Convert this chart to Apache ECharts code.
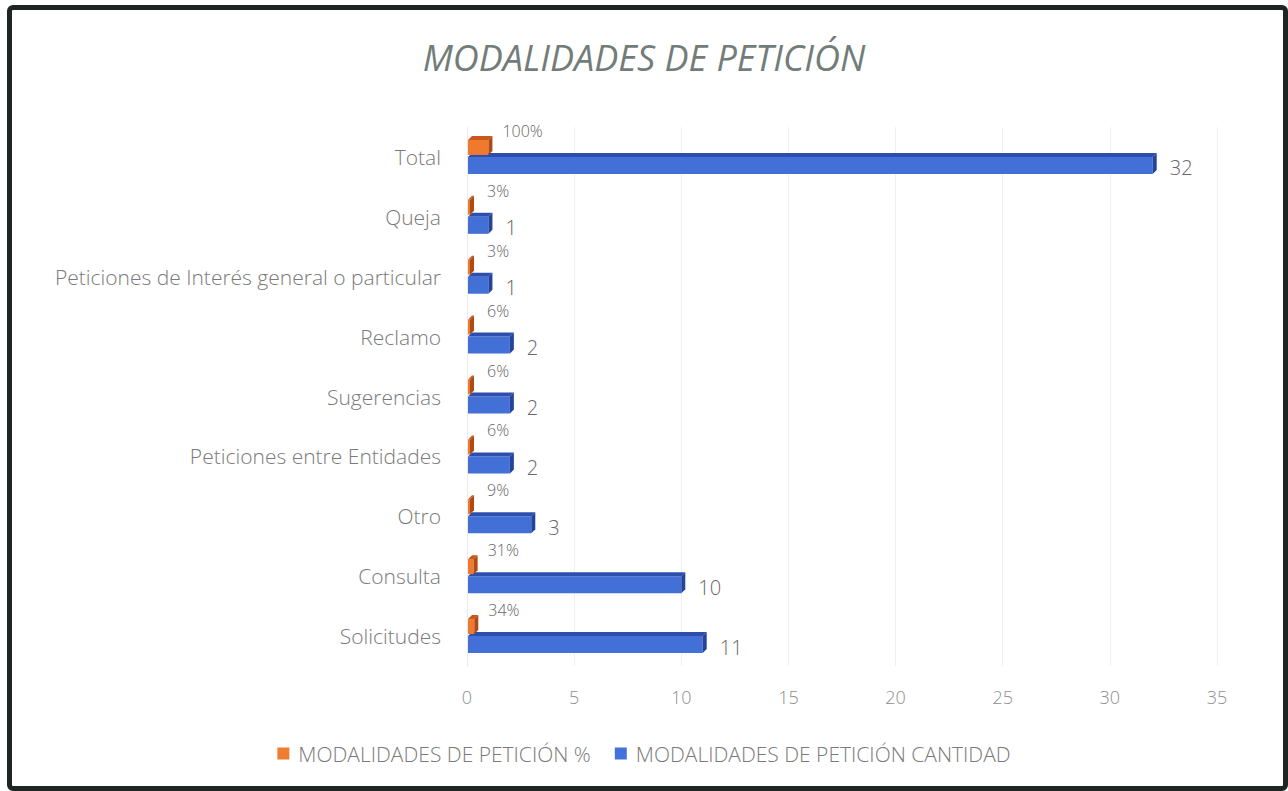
<!DOCTYPE html>
<html>
<head>
<meta charset="utf-8">
<script src="https://cdn.jsdelivr.net/npm/echarts@6/dist/echarts.min.js"></script>
<style>
    html, body { margin: 0; padding: 0; background: #fff; }
    #frame {
        position: absolute; left: 7px; top: 5px; width: 1271px; height: 776px;
        border: 5px solid #1d2622; border-radius: 6px; background: #fff;
    }
    #chart { position: absolute; left: 0; top: 0; width: 1288px; height: 791px; }
</style>
</head>
<body>
<div id="frame"></div>
<div id="chart"></div>
<script>
// categories listed bottom to top (y category axis starts at the bottom)
const categories = ['Solicitudes', 'Consulta', 'Otro', 'Peticiones entre Entidades', 'Sugerencias',
    'Reclamo', 'Peticiones de Interés general o particular', 'Queja', 'Total'];
const cantidad = [11, 10, 3, 2, 2, 2, 1, 1, 32];
const porcentaje = [0.34, 0.31, 0.09, 0.06, 0.06, 0.06, 0.03, 0.03, 1.00];
const xTicks = { min: 0, max: 35, interval: 5 };

const namePct = 'MODALIDADES DE PETICIÓN %';
const nameCant = 'MODALIDADES DE PETICIÓN CANTIDAD';

// draws a bar with a small 3d look: front face, top face and right side
function bar3d(colors, upper, labelFn, labelStyle) {
    return function (params, api) {
        const i = api.value(0);
        const v = api.value(1);
        const c = api.coord([0, i]);
        const e = api.coord([v, i]);
        const h = upper ? 15 : 17;
        const d = 4;
        const y0 = upper ? c[1] - 17 : c[1];
        const x0 = c[0] + 1, x1 = Math.max(e[0], x0 + 2);
        const lab = labelFn(v, x1, y0, h, d);
        return {
            type: 'group',
            children: [
                { type: 'rect', shape: { x: x0, y: y0, width: x1 - x0, height: h },
                  style: { fill: colors[0] } },
                { type: 'polygon', shape: { points: [[x0, y0], [x0 + d, y0 - d], [x1 + d, y0 - d], [x1, y0]] },
                  style: { fill: colors[1] } },
                { type: 'polygon', shape: { points: [[x1, y0], [x1 + d, y0 - d], [x1 + d, y0 + h - d], [x1, y0 + h]] },
                  style: { fill: colors[2] } },
                { type: 'text', x: lab.x, y: lab.y,
                  style: Object.assign({ text: lab.text, fill: '#666666', fontFamily: 'Open Sans',
                      fontWeight: 300, verticalAlign: 'middle' }, labelStyle) }
            ]
        };
    };
}

const chart = echarts.init(document.getElementById('chart'), null, { renderer: 'svg' });
chart.setOption({
    animation: false,
    title: {
        text: 'MODALIDADES DE PETICIÓN',
        left: 'center',
        top: 34,
        textStyle: { fontFamily: 'Open Sans', fontStyle: 'italic', fontWeight: 'normal', fontSize: 36, color: '#727d79' }
    },
    legend: {
        data: [namePct, nameCant],
        bottom: 22,
        left: 'center',
        icon: 'rect',
        itemWidth: 12,
        itemHeight: 12,
        itemGap: 24,
        textStyle: { fontFamily: 'Open Sans', fontWeight: 300, fontSize: 21, color: '#7a7a7a', padding: [0, 0, 0, 4] }
    },
    grid: { left: 467, right: 71, top: 127, bottom: 125 },
    xAxis: {
        type: 'value',
        min: xTicks.min,
        max: xTicks.max,
        interval: xTicks.interval,
        axisLine: { show: false },
        axisTick: { show: false },
        splitLine: { lineStyle: { color: '#eef0f3', width: 1 } },
        axisLabel: { margin: 22, fontFamily: 'Open Sans', fontWeight: 300, fontSize: 18, color: '#8e8e8e' }
    },
    yAxis: {
        type: 'category',
        data: categories,
        axisLine: { show: true, lineStyle: { color: '#e8eaee' } },
        axisTick: { show: false },
        axisLabel: { margin: 26, fontFamily: 'Open Sans', fontWeight: 300, fontSize: 21, color: '#7a7a7a',
            padding: [5, 0, 0, 0] }
    },
    series: [
        {
            name: nameCant,
            type: 'custom',
            itemStyle: { color: '#4472d8' },
            encode: { x: 1, y: 0 },
            data: cantidad.map((v, i) => [i, v]),
            renderItem: bar3d(['#4270d6', '#2c4fae', '#23449a'], false,
                (v, x1, y0, h, d) => ({ text: String(v), x: x1 + 17, y: y0 + 11 }),
                { fontSize: 20 })
        },
        {
            name: namePct,
            type: 'custom',
            itemStyle: { color: '#ed7d31' },
            encode: { x: 1, y: 0 },
            data: porcentaje.map((v, i) => [i, v]),
            renderItem: bar3d(['#ef7a2e', '#c9581c', '#b04a15'], true,
                (v, x1, y0, h, d) => ({ text: Math.round(v * 100) + '%', x: Math.max(x1 + 14, 487), y: y0 - 9 }),
                { fontSize: 16 })
        }
    ]
});
</script>
</body>
</html>
